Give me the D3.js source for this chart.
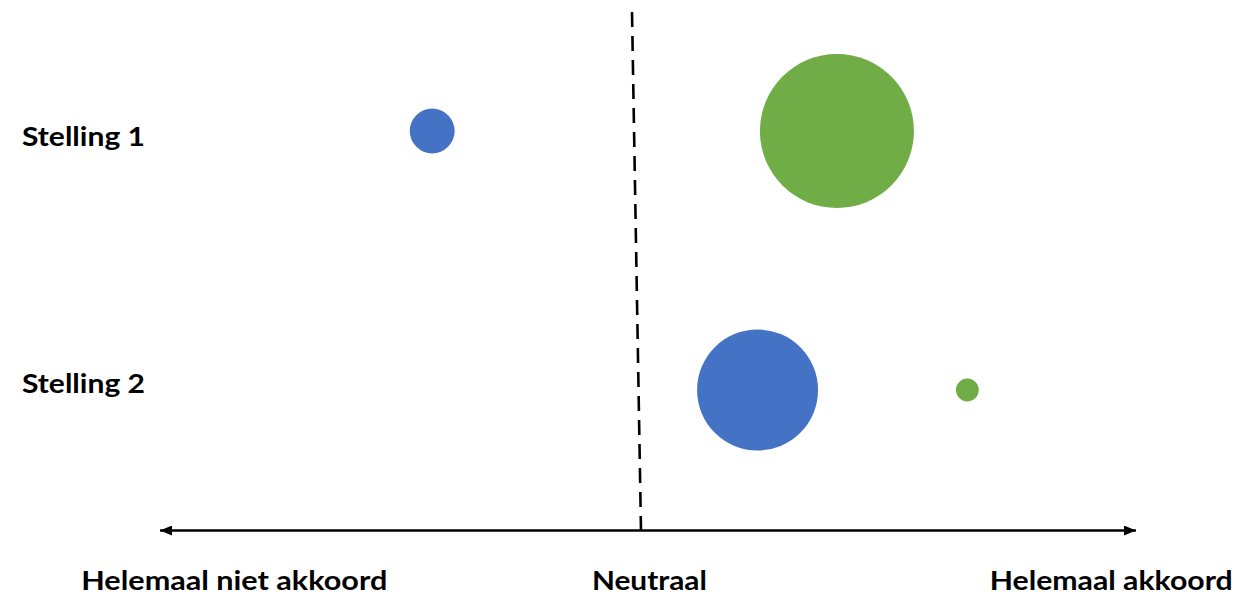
<!DOCTYPE html>
<html>
<head>
<meta charset="utf-8">
<script src="https://cdn.jsdelivr.net/npm/d3@7"></script>
<style>
  html, body { margin: 0; padding: 0; background: #fff; }
  svg { display: block; }
  text { font-family: Lato, "Open Sans", sans-serif; font-weight: 700; fill: #000; }
</style>
</head>
<body>
<svg id="chart" width="1258" height="595"></svg>
<script>
// Data
const statements = ["Stelling 1", "Stelling 2"];
const groups = ["Blauw", "Groen"];
// position on scale -1 (helemaal niet akkoord) .. 0 (neutraal) .. 1 (helemaal akkoord)
const positionBlue = [-0.421, 0.235];
const positionGreen = [0.395, 0.658];
// bubble size (relative count)
const sizeBlue = [8.5, 61.7];
const sizeGreen = [100, 2.2];
const axisLabels = ["Helemaal niet akkoord", "Neutraal", "Helemaal akkoord"];
const axisLabelPos = [-0.82, 0.017, 0.948];

const colors = { Blauw: "#4472C4", Groen: "#70AD47" };

const svg = d3.select("#chart");
const x = d3.scaleLinear().domain([-1, 1]).range([145, 1137]);
const y = d3.scalePoint().domain(statements).range([131, 390]);
const r = d3.scaleSqrt().domain([0, 100]).range([0, 77]);

const points = [];
statements.forEach((s, i) => {
  points.push({ s, g: "Blauw", pos: positionBlue[i], size: sizeBlue[i] });
  points.push({ s, g: "Groen", pos: positionGreen[i], size: sizeGreen[i] });
});

// dashed neutral line
svg.append("line")
  .attr("x1", x(0) - 9).attr("y1", 12)
  .attr("x2", x(0)).attr("y2", 531)
  .attr("stroke", "#000").attr("stroke-width", 2.6)
  .attr("stroke-dasharray", "15,9");

// axis with arrows
const defs = svg.append("defs");
defs.append("marker").attr("id", "arr")
  .attr("viewBox", "0 0 12 10").attr("refX", 12).attr("refY", 5)
  .attr("markerWidth", 12).attr("markerHeight", 10)
  .attr("markerUnits", "userSpaceOnUse")
  .attr("orient", "auto-start-reverse")
  .append("path").attr("d", "M0,0 L12,5 L0,10 Z").attr("fill", "#000");

svg.append("line")
  .attr("x1", 160).attr("y1", 530.5)
  .attr("x2", 1136).attr("y2", 530.5)
  .attr("stroke", "#000").attr("stroke-width", 2.4)
  .attr("marker-start", "url(#arr)")
  .attr("marker-end", "url(#arr)");

// bubbles
svg.selectAll("circle.b").data(points).join("circle")
  .attr("class", "b")
  .attr("cx", d => x(d.pos))
  .attr("cy", d => y(d.s))
  .attr("r", d => r(d.size))
  .attr("fill", d => colors[d.g]);

// statement labels
const labelOffsets = [15, 3];
svg.selectAll("text.st").data(statements).join("text")
  .attr("class", "st")
  .attr("x", 22)
  .attr("y", (d, i) => y(d) + labelOffsets[i])
  .attr("font-size", 27)
  .attr("textLength", 123)
  .attr("lengthAdjust", "spacingAndGlyphs")
  .text(d => d);

// axis labels
const widths = [306, 115, 243];
svg.selectAll("text.ax").data(axisLabels).join("text")
  .attr("class", "ax")
  .attr("x", (d, i) => x(axisLabelPos[i]))
  .attr("y", 590)
  .attr("text-anchor", "middle")
  .attr("font-size", 27)
  .attr("textLength", (d, i) => widths[i])
  .attr("lengthAdjust", "spacingAndGlyphs")
  .text(d => d);
</script>
</body>
</html>
